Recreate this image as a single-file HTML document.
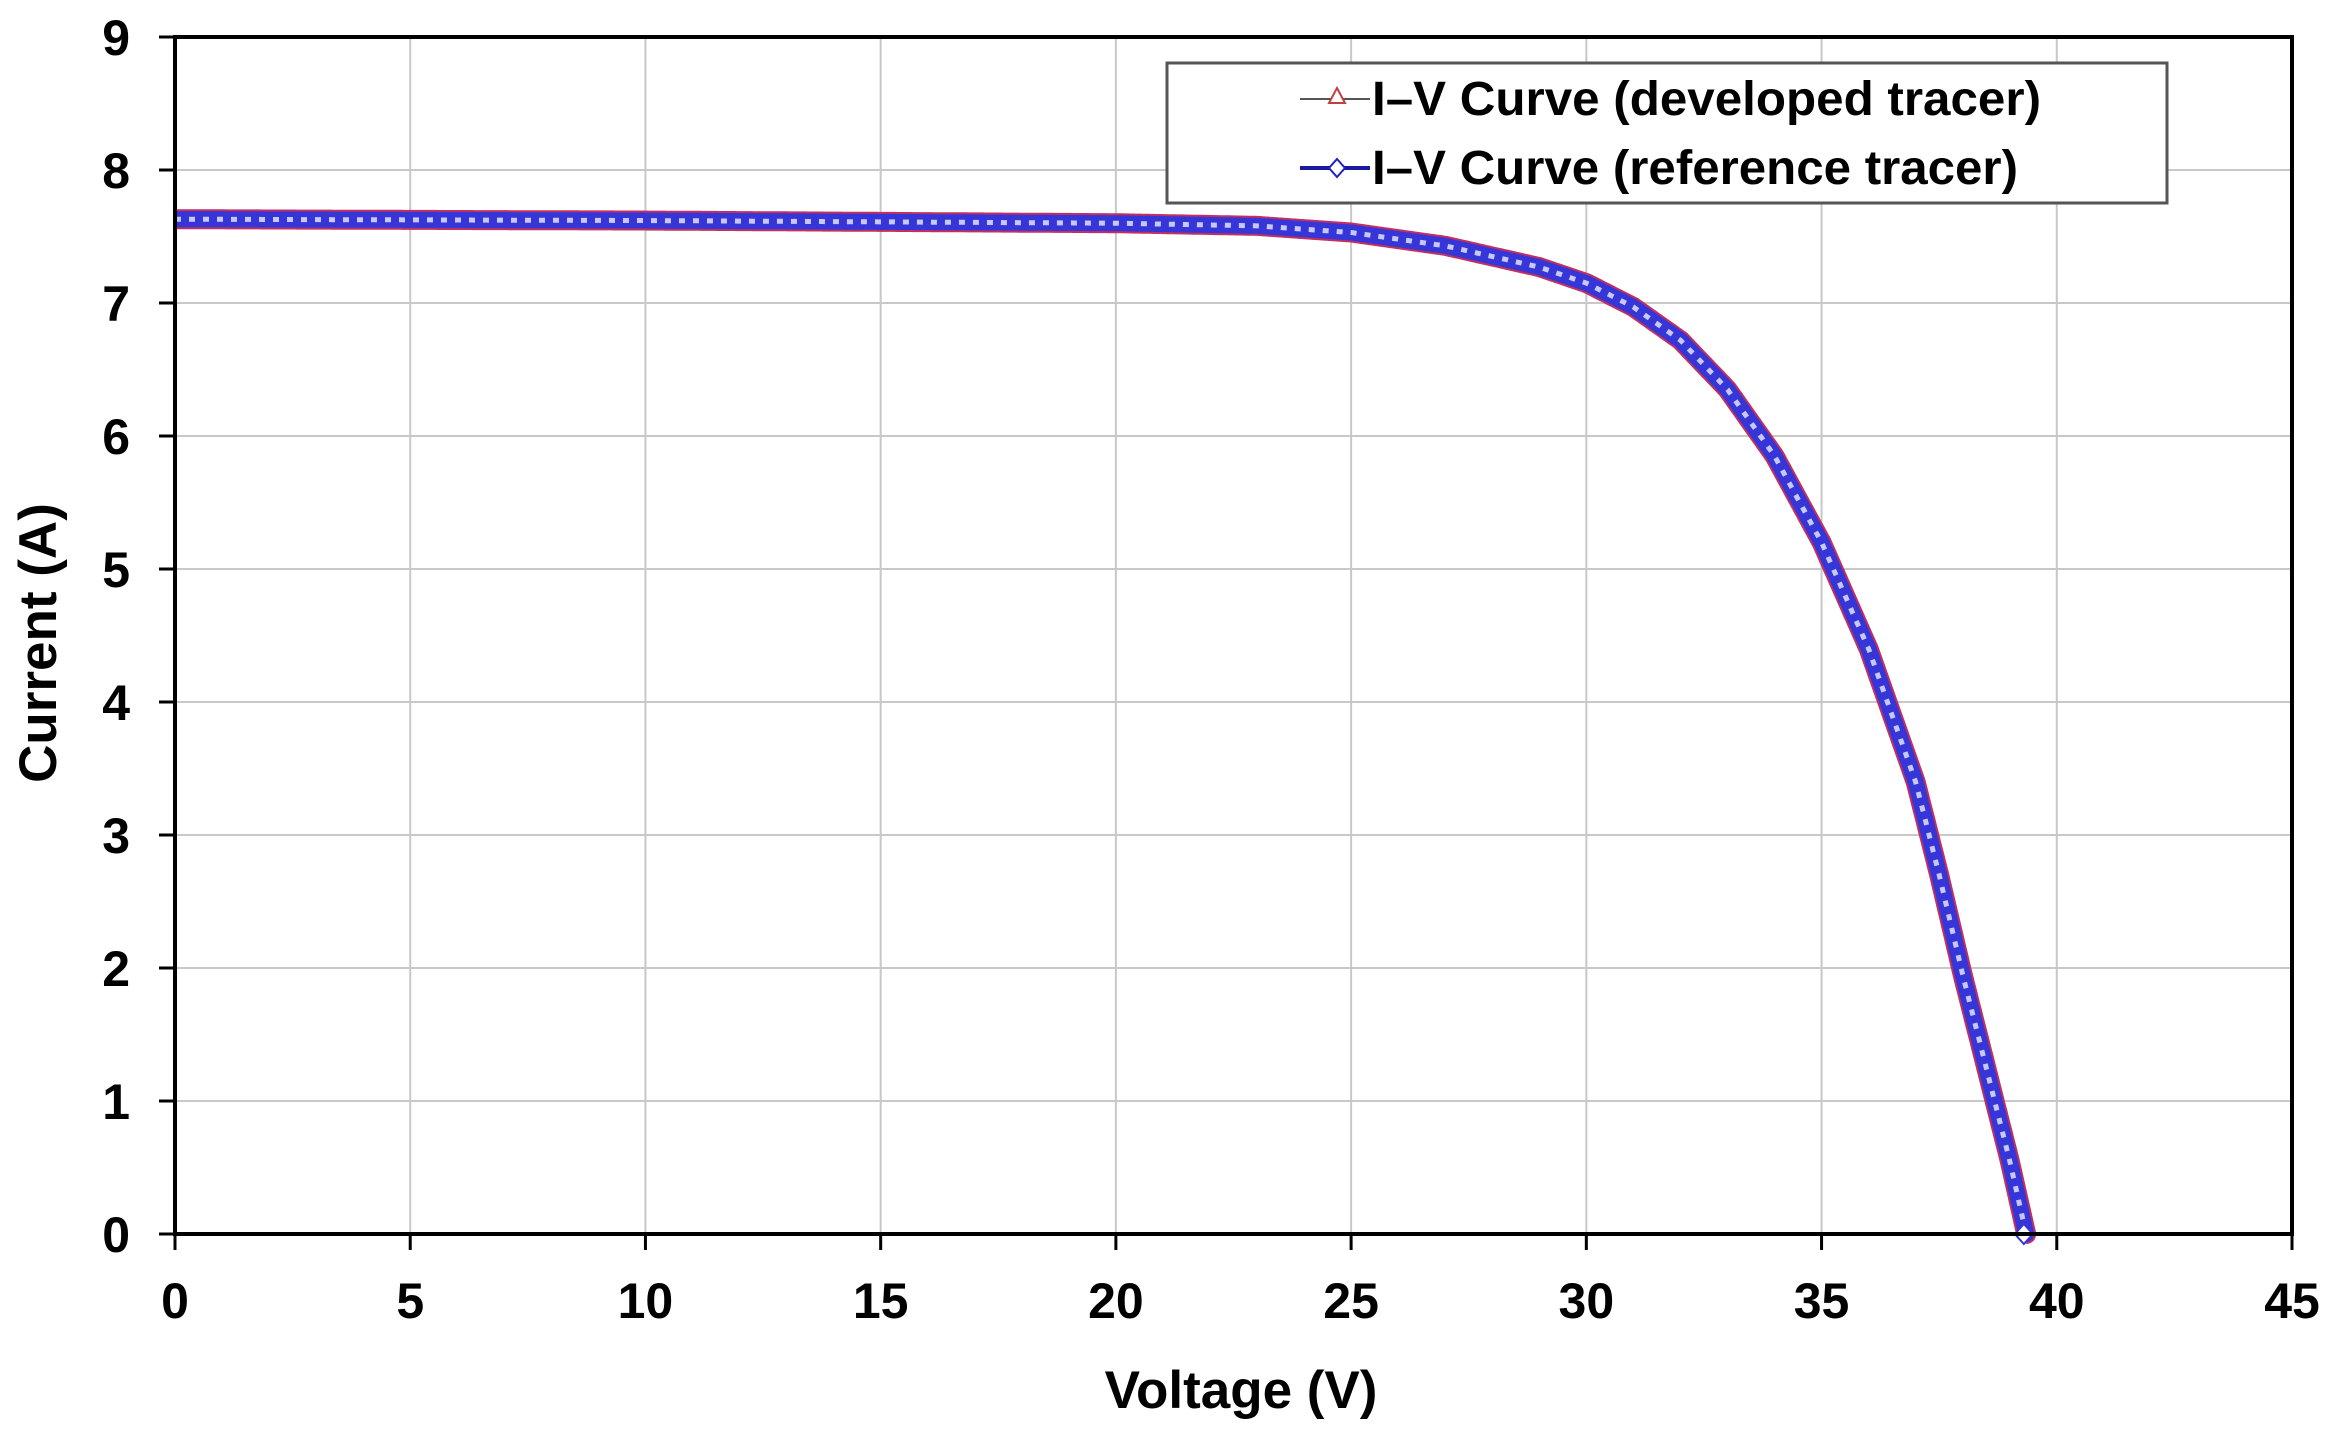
<!DOCTYPE html>
<html><head><meta charset="utf-8"><style>
html,body{margin:0;padding:0;background:#fff;}
svg text{font-family:"Liberation Sans",Arial,sans-serif;font-weight:bold;fill:#000;}
</style></head><body>
<svg id="s" width="2337" height="1428" viewBox="0 0 2337 1428" xmlns="http://www.w3.org/2000/svg">
<rect width="2337" height="1428" fill="#fff"/>
<g id="grid" stroke="#c8c8c8" stroke-width="2"></g>
<g id="curve"></g>
<rect x="175" y="37" width="2117" height="1197" fill="none" stroke="#000" stroke-width="4"/>
<g id="ticks" stroke="#000" stroke-width="3"></g>
<g id="labels" font-size="50"></g>
<text x="1241" y="1408" font-size="53" text-anchor="middle">Voltage (V)</text>
<text transform="translate(56,643) rotate(-90)" font-size="53" text-anchor="middle">Current (A)</text>
<rect x="1167" y="63" width="1000" height="140" fill="#fff" stroke="#555" stroke-width="3"/>
<line x1="1300" y1="99" x2="1370" y2="99" stroke="#555" stroke-width="2"/>
<polygon points="1337,88 1345,103 1329,103" fill="#fff" stroke="#c04040" stroke-width="2"/>
<line x1="1300" y1="168" x2="1370" y2="168" stroke="#1a1aa0" stroke-width="4"/>
<polygon points="1337,159 1345,168 1337,177 1329,168" fill="#fff" stroke="#2020c0" stroke-width="2"/>
<text x="1372" y="115" font-size="48" textLength="669" lengthAdjust="spacingAndGlyphs">I–V Curve (developed tracer)</text>
<text x="1372" y="184" font-size="48" textLength="646" lengthAdjust="spacingAndGlyphs">I–V Curve (reference tracer)</text>
</svg>
<script>
var L=175,R=2292,T=37,B=1234,ns="http://www.w3.org/2000/svg";
function X(v){return L+(R-L)*v/45}function Y(i){return B-(B-T)*i/9}
function el(p,t,a){var e=document.createElementNS(ns,t);for(var k in a)e.setAttribute(k,a[k]);p.appendChild(e);return e}
var g=document.getElementById('grid'),tk=document.getElementById('ticks'),lb=document.getElementById('labels');
for(var v=0;v<=45;v+=5){var x=X(v);if(v>0&&v<45)el(g,'line',{x1:x,y1:T,x2:x,y2:B});el(tk,'line',{x1:x,y1:B,x2:x,y2:B+16});
 var t=el(lb,'text',{x:x,y:1318,'text-anchor':'middle'});t.textContent=v;}
for(var i=0;i<=9;i++){var y=Y(i);if(i>0&&i<9)el(g,'line',{x1:L,y1:y,x2:R,y2:y});el(tk,'line',{x1:159,y1:y,x2:L,y2:y});
 var t=el(lb,'text',{x:130,y:y+18,'text-anchor':'end'});t.textContent=i;}
var P=[[0,7.63],[10,7.62],[20,7.6],[23,7.58],[25,7.53],[27,7.43],[29,7.27],[30,7.15],[31,6.97],[32,6.72],[33,6.35],[34,5.85],[35,5.2],[36,4.4],[37,3.4],[37.5,2.7],[38,1.95],[38.5,1.25],[39,0.55],[39.35,0]];
function interp(v){for(var k=0;k<P.length-1;k++){if(v<=P[k+1][0]){var a=P[k],b=P[k+1];var f=(v-a[0])/(b[0]-a[0]);return a[1]+f*(b[1]-a[1]);}}return 0}
var pts=[];for(var v=0;v<=39.35;v+=0.05){pts.push(X(v).toFixed(1)+','+Y(interp(v)).toFixed(1));}
pts.push(X(39.35)+','+Y(0));
var s=pts.join(' '),c=document.getElementById('curve');
el(c,'polyline',{points:s,fill:'none',stroke:'#c03060',"stroke-width":20,"stroke-linejoin":"round"});
el(c,'polyline',{points:s,fill:'none',stroke:'#3535d8',"stroke-width":16,"stroke-linejoin":"round"});
el(c,'polyline',{points:s,fill:'none',stroke:'#c8c8f8',"stroke-width":5,"stroke-dasharray":"6 8"});
el(c,'polygon',{points:(X(39.3)-9)+','+Y(0)+' '+X(39.3)+','+(Y(0)-10)+' '+(X(39.3)+9)+','+Y(0)+' '+X(39.3)+','+(Y(0)+10),fill:'#fff',stroke:'#3535d8','stroke-width':2});
</script>
</body></html>
